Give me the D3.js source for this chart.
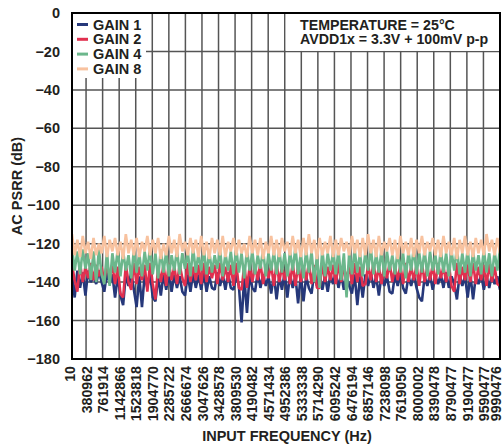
<!DOCTYPE html>
<html><head><meta charset="utf-8">
<script src="https://cdn.jsdelivr.net/npm/d3@7/dist/d3.min.js"></script>
<style>
body{margin:0;background:#fff}
text{font-family:"Liberation Sans",Arial,Helvetica,sans-serif;font-weight:bold;fill:#231f20}
</style>
</head><body>
<svg id="chart" width="503" height="446"></svg>
<script>
const tickLabels = ["10","380962","761914","1142866","1523818","1904770","2285722","2666674","3047626","3428578","3809530","4190482","4571434","4952386","5333338","5714290","6095242","6476194","6857146","7238098","7619050","8000002","8390478","8790477","9190477","9590477","9990476"];
const yTicks = [0,-20,-40,-60,-80,-100,-120,-140,-160,-180];
const seriesNames = ["GAIN 1","GAIN 2","GAIN 4","GAIN 8"];
const seriesColors = ["#26387a","#e1304f","#6cb78c","#f8c29f"];
const annotation = ["TEMPERATURE = 25°C","AVDD1x = 3.3V + 100mV p-p"];

const gain1 = [-136,-148,-134,-143,-135,-147,-134,-140,-137,-141,-134,-140,-145,-135,-141,-136,-148,-137,-147,-152,
-136,-142,-135,-144,-153,-137,-153,-136,-143,-135,-148,-150,-137,-147,-136,-144,-135,-145,-136,-143,
-137,-145,-147,-136,-145,-135,-143,-136,-144,-135,-145,-137,-143,-144,-135,-142,-136,-144,-135,-143,
-144,-136,-142,-161,-137,-156,-136,-143,-145,-135,-143,-136,-142,-137,-146,-136,-149,-137,-144,-135,
-148,-136,-143,-137,-151,-136,-150,-137,-143,-146,-135,-142,-136,-144,-137,-145,-136,-141,-135,-143,
-136,-144,-137,-142,-146,-136,-152,-137,-148,-136,-142,-135,-143,-137,-147,-136,-142,-137,-145,-146,
-136,-142,-135,-143,-146,-137,-142,-136,-143,-148,-150,-137,-142,-136,-144,-137,-141,-136,-143,-135,
-143,-137,-141,-149,-136,-142,-137,-148,-136,-149,-137,-141,-136,-144,-137,-143,-136,-141,-137,-144];

const gain2 = [-131,-139,-145,-130,-140,-132,-138,-130,-139,-131,-137,-132,-140,-130,-138,-131,-141,-132,-146,-148,
-131,-140,-144,-130,-141,-132,-139,-131,-145,-130,-141,-149,-132,-140,-131,-142,-130,-139,-132,-141,
-131,-138,-142,-130,-140,-132,-139,-131,-141,-130,-140,-132,-138,-131,-141,-130,-139,-132,-140,-131,
-142,-130,-143,-144,-131,-143,-132,-140,-131,-139,-130,-141,-132,-138,-131,-142,-130,-140,-132,-139,
-131,-141,-130,-142,-131,-140,-132,-139,-130,-141,-131,-143,-143,-130,-140,-132,-139,-131,-141,-130,
-140,-132,-139,-131,-141,-130,-140,-132,-142,-141,-131,-139,-130,-140,-132,-141,-131,-138,-130,-140,
-132,-139,-131,-141,-130,-140,-132,-139,-131,-142,-130,-140,-132,-139,-131,-141,-130,-138,-132,-140,
-131,-142,-145,-130,-141,-132,-139,-131,-140,-130,-141,-132,-139,-131,-142,-130,-140,-132,-141,-142];

const gain4 = [-122,-134,-124,-136,-123,-133,-125,-139,-124,-140,-123,-136,-141,-124,-142,-125,-135,-123,-137,-124,
-134,-126,-138,-123,-135,-125,-137,-124,-134,-122,-136,-125,-138,-123,-135,-124,-137,-126,-134,-123,
-136,-125,-133,-124,-137,-122,-135,-125,-134,-123,-136,-124,-135,-126,-133,-123,-137,-125,-134,-124,
-136,-122,-135,-125,-138,-123,-134,-124,-136,-126,-133,-123,-137,-125,-134,-124,-136,-123,-135,-125,
-137,-124,-134,-122,-136,-125,-138,-123,-135,-124,-140,-126,-143,-123,-137,-125,-134,-124,-136,-123,
-139,-125,-148,-124,-136,-123,-135,-125,-137,-124,-134,-122,-136,-125,-135,-123,-137,-124,-134,-126,
-136,-123,-135,-125,-138,-124,-134,-122,-136,-125,-135,-123,-137,-124,-134,-126,-136,-123,-135,-125,
-137,-124,-134,-122,-136,-125,-135,-123,-137,-124,-134,-126,-136,-123,-135,-125,-137,-124,-134,-123];

const gain8 = [-115,-126,-118,-127,-116,-125,-119,-128,-117,-126,-120,-125,-116,-127,-118,-124,-117,-126,-119,-128,
-115,-125,-118,-126,-117,-127,-119,-124,-116,-126,-118,-125,-117,-128,-120,-126,-116,-125,-118,-127,
-115,-124,-119,-126,-117,-125,-118,-127,-116,-126,-119,-128,-117,-125,-118,-126,-116,-127,-119,-124,
-117,-126,-118,-125,-120,-127,-116,-125,-118,-126,-117,-128,-119,-125,-116,-126,-118,-127,-117,-124,
-119,-126,-116,-125,-118,-127,-117,-126,-115,-125,-118,-128,-117,-126,-119,-125,-116,-127,-118,-126,
-117,-124,-119,-126,-116,-125,-118,-127,-117,-126,-115,-125,-118,-127,-116,-126,-119,-124,-117,-126,
-118,-128,-116,-125,-119,-126,-117,-127,-118,-125,-116,-126,-119,-124,-117,-126,-118,-127,-116,-125,
-119,-126,-117,-128,-118,-125,-116,-126,-119,-127,-117,-125,-118,-126,-115,-124,-118,-126,-117,-125];

const seriesData = [gain1, gain2, gain4, gain8];

const svg = d3.select("#chart");
const L = 72, R = 500, T = 13, B = 359;
const xTick = d3.scaleLinear().domain([0, 26]).range([69.5, 500]);
const y = d3.scaleLinear().domain([-180, 0]).range([B, T]);
const N = gain1.length;
const idx = d3.scaleLinear().domain([0, N - 1]).range([0.15, 26]);

svg.append("rect").attr("width", 503).attr("height", 446).attr("fill", "#fff");

svg.append("defs").append("clipPath").attr("id", "clip")
  .append("rect").attr("x", L).attr("y", T).attr("width", R - L).attr("height", B - T);

// gridlines
const grid = svg.append("g").attr("stroke", "#555").attr("stroke-width", 1.5);
grid.selectAll("line.v").data(d3.range(1, 26)).join("line").attr("class", "v")
  .attr("x1", d => xTick(d)).attr("x2", d => xTick(d)).attr("y1", T).attr("y2", B);
grid.selectAll("line.h").data(yTicks.filter(d => d !== 0 && d !== -180)).join("line").attr("class", "h")
  .attr("x1", L).attr("x2", R).attr("y1", d => y(d)).attr("y2", d => y(d));

// series
const line = d3.line().x((d, i) => xTick(idx(i))).y(d => y(d));
const plot = svg.append("g").attr("clip-path", "url(#clip)");
seriesData.forEach((s, k) => {
  plot.append("path").datum(s).attr("d", line).attr("fill", "none")
    .attr("stroke", seriesColors[k]).attr("stroke-width", 2.6).attr("stroke-linejoin", "bevel");
});

// legend box & annotation box
svg.append("rect").attr("x", L + 1).attr("y", T + 1).attr("width", 146 - L - 1).attr("height", 78 - T - 1).attr("fill", "#fff");
svg.append("rect").attr("x", xTick(13) + 1).attr("y", T + 1).attr("width", R - xTick(13) - 2).attr("height", y(-20) - T - 1.5).attr("fill", "#fff");

// legend
const lg = svg.append("g");
seriesNames.forEach((n, k) => {
  const by = 29.5 + k * 14.8;
  lg.append("line").attr("x1", 77).attr("x2", 88).attr("y1", by - 5).attr("y2", by - 5)
    .attr("stroke", seriesColors[k]).attr("stroke-width", 3);
  lg.append("text").attr("x", 93).attr("y", by).attr("font-size", 14.5).text(n);
});

// annotation
annotation.forEach((t, k) => {
  svg.append("text").attr("x", 300).attr("y", 29.5 + k * 14.5).attr("font-size", 14.2).text(t);
});

// frame
svg.append("rect").attr("x", L).attr("y", T).attr("width", R - L).attr("height", B - T)
  .attr("fill", "none").attr("stroke", "#000").attr("stroke-width", 2);

// y axis
const ya = svg.append("g").attr("transform", `translate(${L},0)`)
  .call(d3.axisLeft(y).tickValues(yTicks).tickSize(0).tickPadding(12)
    .tickFormat(d => d === 0 ? "0" : "\u2212" + Math.abs(d)));
ya.select(".domain").remove();
ya.selectAll("text").attr("font-size", 14.5).style("font-family", "'Liberation Sans',Arial,sans-serif").attr("fill", "#231f20");

// x axis
const xa = svg.append("g").attr("transform", `translate(0,${B})`)
  .call(d3.axisBottom(xTick).tickValues(d3.range(27)).tickSize(0).tickFormat(i => tickLabels[i]));
xa.select(".domain").remove();
xa.selectAll("text").attr("transform", "rotate(-90)").attr("text-anchor", "end")
  .attr("x", -7).attr("y", d => d === 26 ? -4.5 : 0).attr("dy", "0.36em").attr("font-size", 14.2)
  .style("font-family", "'Liberation Sans',Arial,sans-serif").attr("fill", "#231f20");

// titles
svg.append("text").attr("transform", "translate(22,186) rotate(-90)").attr("text-anchor", "middle")
  .attr("font-size", 14.5).text("AC PSRR (dB)");
svg.append("text").attr("x", 287).attr("y", 441).attr("text-anchor", "middle")
  .attr("font-size", 14.5).text("INPUT FREQUENCY (Hz)");
</script>
</body></html>
